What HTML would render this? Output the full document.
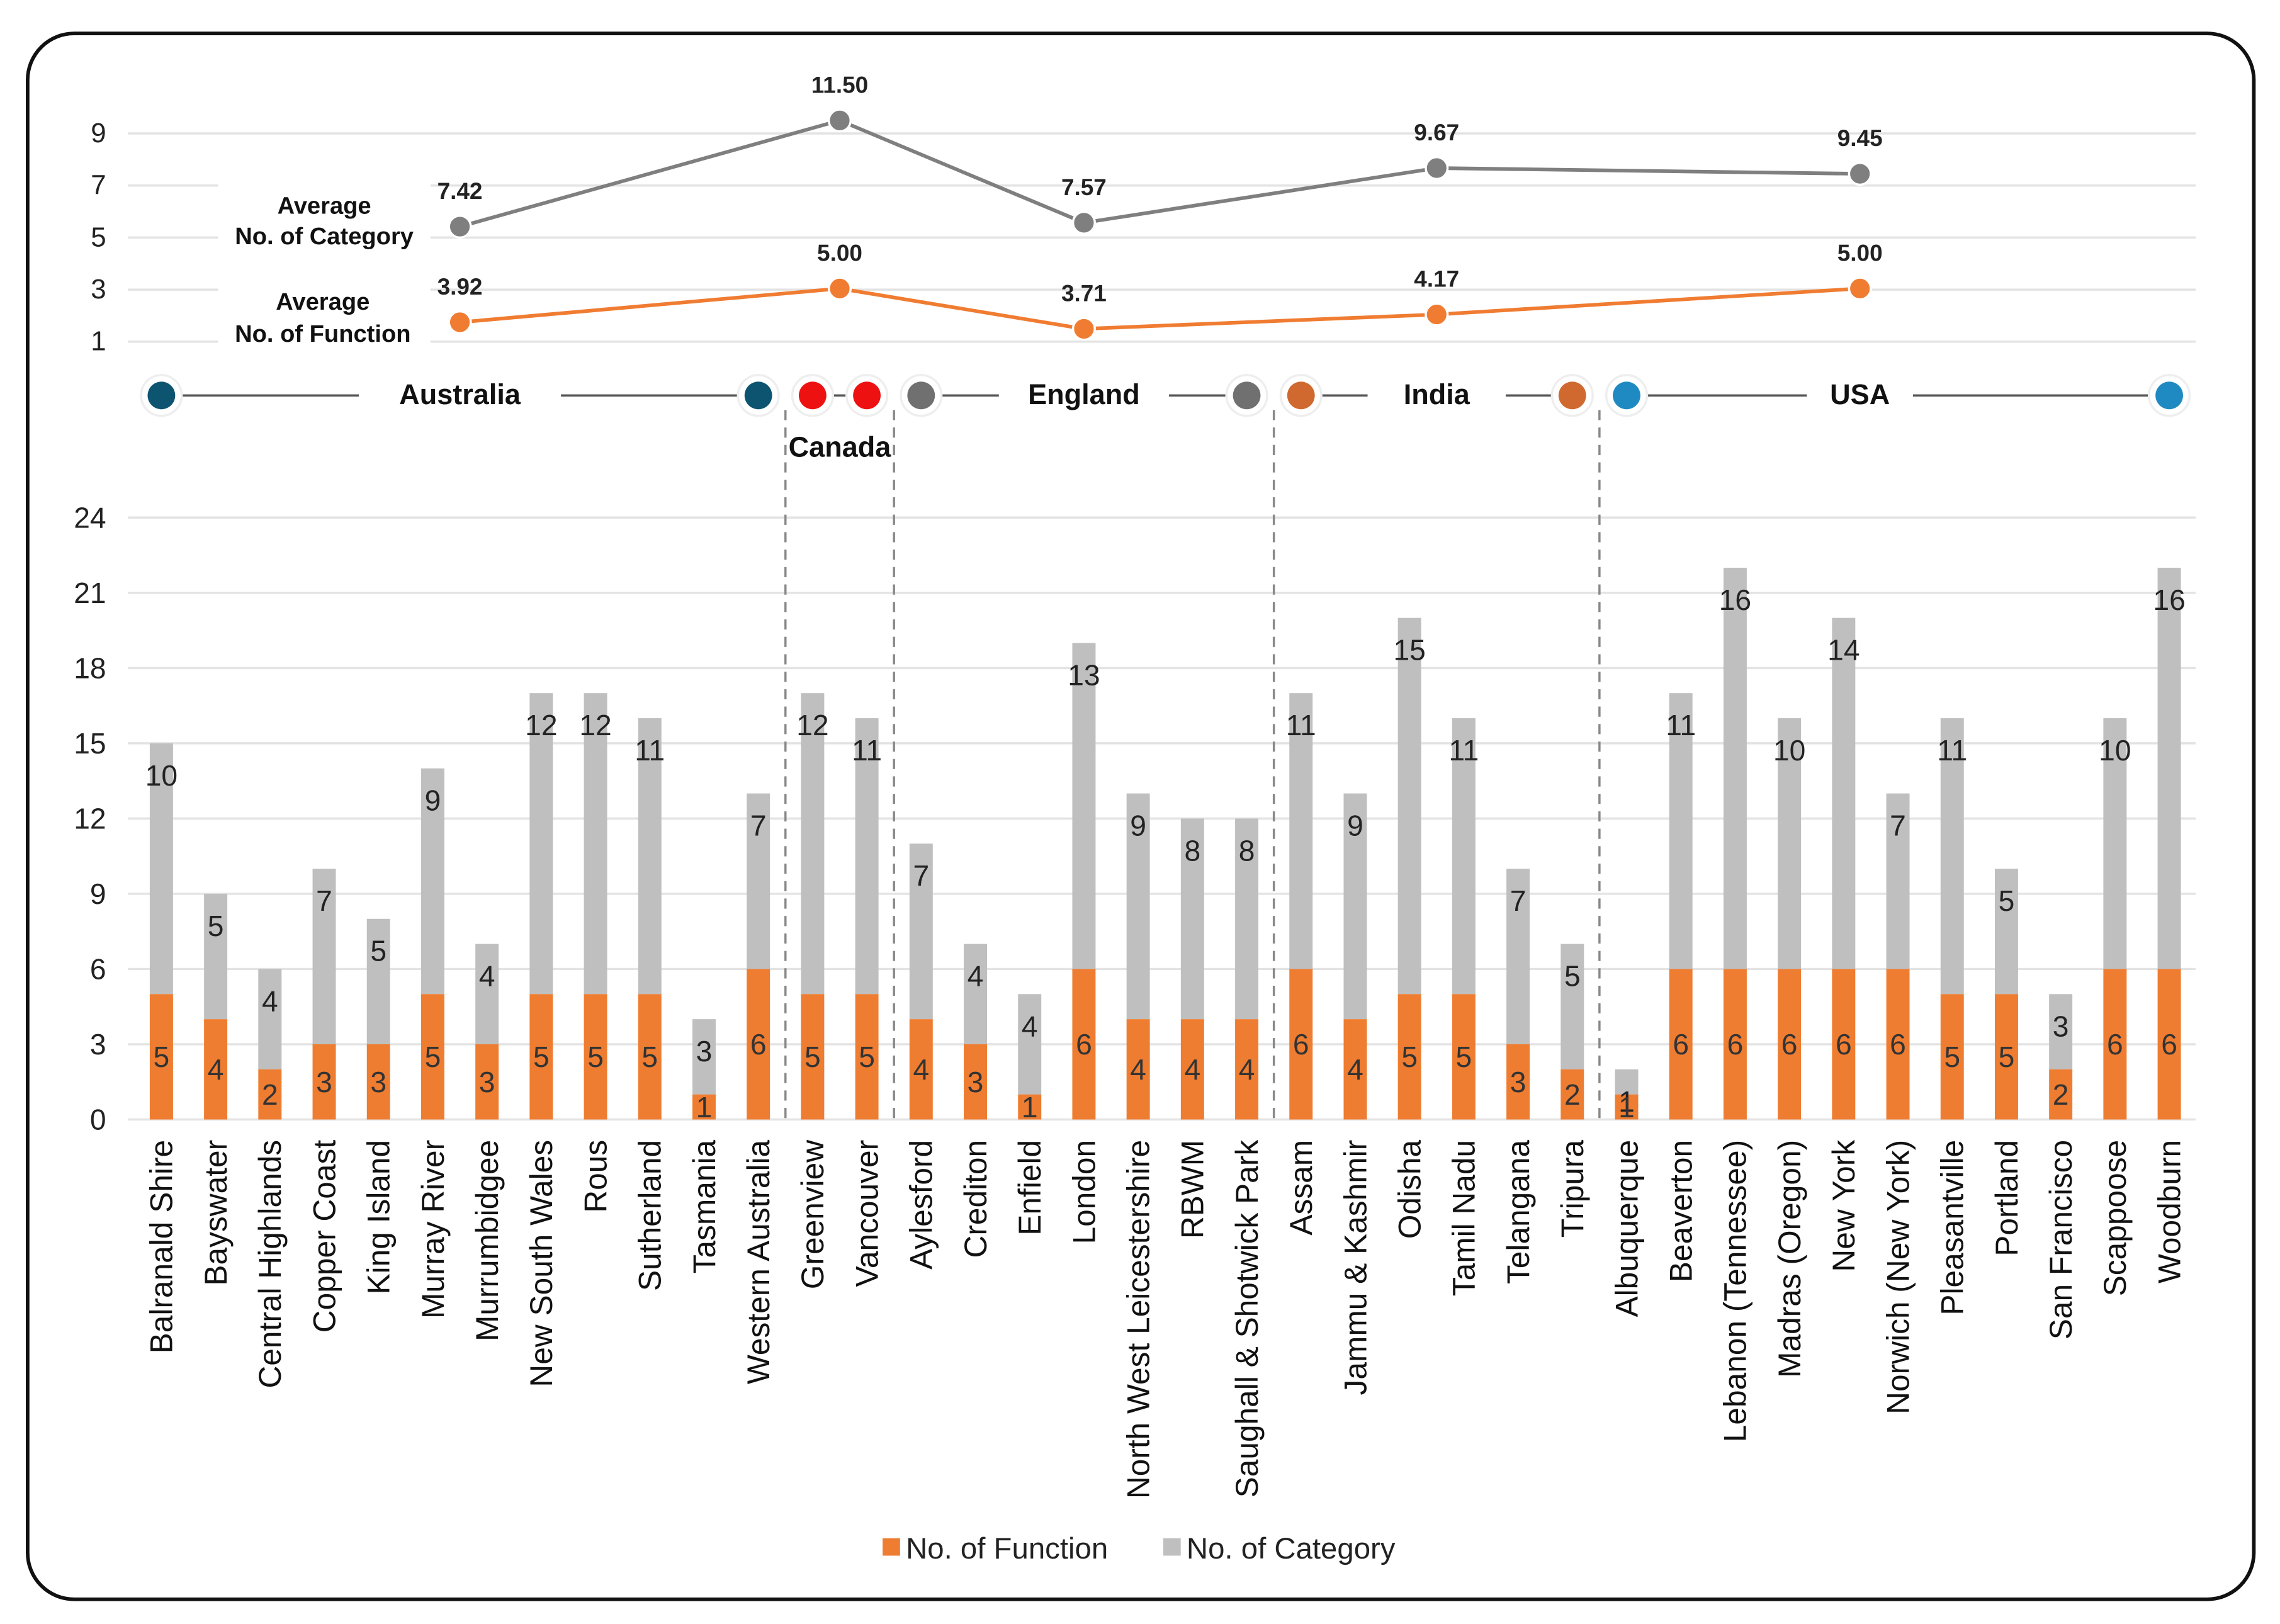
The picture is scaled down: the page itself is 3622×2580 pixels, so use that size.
<!DOCTYPE html>
<html><head><meta charset="utf-8">
<style>
html,body{margin:0;padding:0;background:#fff;}
svg{display:block;font-family:"Liberation Sans",Arial,sans-serif;}
</style></head>
<body>
<svg id="chart" width="3622" height="2580" viewBox="0 0 1568 1117" preserveAspectRatio="none" xmlns="http://www.w3.org/2000/svg">
<rect x="19" y="23" width="1531" height="1077" rx="32" fill="#fff" stroke="#111" stroke-width="2.5"/>
<g id="top"></g>
<g id="countries"></g>
<g id="bottom"></g>
</svg>
<script>
const sites = ["Balranald Shire","Bayswater","Central Highlands","Copper Coast","King Island","Murray River","Murrumbidgee","New South Wales","Rous","Sutherland","Tasmania","Western Australia","Greenview","Vancouver","Aylesford","Crediton","Enfield","London","North West Leicestershire","RBWM","Saughall & Shotwick Park","Assam","Jammu & Kashmir","Odisha","Tamil Nadu","Telangana","Tripura","Albuquerque","Beaverton","Lebanon (Tennessee)","Madras (Oregon)","New York","Norwich (New York)","Pleasantville","Portland","San Francisco","Scappoose","Woodburn"];
const funcVals = [5,4,2,3,3,5,3,5,5,5,1,6,5,5,4,3,1,6,4,4,4,6,4,5,5,3,2,1,6,6,6,6,6,5,5,2,6,6];
const catVals = [10,5,4,7,5,9,4,12,12,11,3,7,12,11,7,4,4,13,9,8,8,11,9,15,11,7,5,1,11,16,10,14,7,11,5,3,10,16];
const barTicks = [0,3,6,9,12,15,18,21,24];
const countries = ["Australia","Canada","England","India","USA"];
const countryStart = [0,12,14,21,27];
const countryEnd = [11,13,20,26,37];
const countryLabelIdx = [5.5,12.5,17,23.5,31.3];
const countryColors = ["#0d5470","#ee1111","#707070","#d0692f","#1f8ac2"];
const avgCategory = [7.42,11.50,7.57,9.67,9.45];
const avgFunction = [3.92,5.00,3.71,4.17,5.00];
const topTicks = [1,3,5,7,9];

const NS="http://www.w3.org/2000/svg";
function mk(tag,attrs,parent,text){const e=document.createElementNS(NS,tag);for(const k in attrs)e.setAttribute(k,attrs[k]);if(text!==undefined)e.textContent=text;parent.appendChild(e);return e;}
const X0=111, STEP=37.32, BW=16;
const xi = i => X0 + i*STEP;
const yb = v => 770 - v*17.25;
const yt = v => 235 - (v-3)*17.9;
const ytf = v => 235 - (v-3.3)*21.5;
const ytick = v => 235 - (v-1)*17.9;

const topG = document.getElementById('top');
topTicks.forEach(t=>{
  const g=mk('line',{x1:88,x2:1510,y1:ytick(t),y2:ytick(t),stroke:'#e3e3e3','stroke-width':1.5},topG);
  
  
  const l=mk('text',{x:73,y:ytick(t)+6,'text-anchor':'end','font-size':19,fill:'#222'},topG,String(t));
  
  
});
const cx = countryLabelIdx.map(v=>xi(v));
function series(vals,color,name,yf){
  const pts=vals.map((v,k)=>cx[k]+','+yf(v)).join(' ');
  const pl=mk('polyline',{points:pts,fill:'none',stroke:color,'stroke-width':2.5},topG);
  
  
  vals.forEach((v,k)=>{
    const c=mk('circle',{cx:cx[k],cy:yf(v),r:7.5,fill:color,stroke:'#fff','stroke-width':1.5},topG);
    
    
    const t=mk('text',{x:cx[k],y:yf(v)-19,'text-anchor':'middle','font-size':16,'font-weight':'bold',fill:'#222'},topG,v.toFixed(2));
    
    
  });
}
series(avgCategory,'#7f7f7f','avg-category',yt);
series(avgFunction,'#f07c32','avg-function',ytf);
[141,168,213,235].forEach(yy=>{
  const r=mk('rect',{x:150,y:yy-16,width:146,height:21,fill:'#fff'},topG);
  
  
});
[['Average',223,147],['No. of Category',223,168],['Average',222,213],['No. of Function',222,235]].forEach(a=>{
  const t=mk('text',{x:a[1],y:a[2],'text-anchor':'middle','font-size':16.5,'font-weight':'bold',fill:'#111'},topG,a[0]);
  
  
});

const cg=document.getElementById('countries');
const CY=272;
countries.forEach((c,k)=>{
  const a=xi(countryStart[k]), b=xi(countryEnd[k]), col=countryColors[k];
  const ln=mk('line',{x1:a,x2:b,y1:CY,y2:CY,stroke:'#555','stroke-width':1.5},cg);
  
  
  if(c!=='Canada'){
    const w=c.length*11+40;
    const rb=mk('rect',{x:cx[k]-w/2,y:CY-12,width:w,height:24,fill:'#fff'},cg);
    
    
    const t=mk('text',{x:cx[k],y:CY+6,'text-anchor':'middle','font-size':19.5,'font-weight':'bold',fill:'#111'},cg,c);
    
    
  } else {
    const t=mk('text',{x:cx[k],y:314,'text-anchor':'middle','font-size':19.5,'font-weight':'bold',fill:'#111'},cg,c);
    
    
  }
  [a,b].forEach(x=>{
    const h=mk('circle',{cx:x,cy:CY,r:14,fill:'#fff',stroke:'#eee','stroke-width':1.5},cg);
    
    
    const d=mk('circle',{cx:x,cy:CY,r:9.5,fill:col},cg);
    
    
  });
});

const botG=document.getElementById('bottom');
barTicks.forEach(t=>{
  const l=mk('line',{x1:88,x2:1510,y1:yb(t),y2:yb(t),stroke:'#e3e3e3','stroke-width':1.5},botG);
  
  
  const tx=mk('text',{x:73,y:yb(t)+7,'text-anchor':'end','font-size':20,fill:'#222'},botG,String(t));
  
  
});
for(let k=1;k<countries.length;k++){
  const x=xi(countryStart[k]-0.5);
  const d=mk('line',{x1:x,x2:x,y1:CY+10,y2:yb(0),stroke:'#888','stroke-width':1.5,'stroke-dasharray':'7,5'},botG);
  
  
}
sites.forEach((s,i)=>{
  const f=funcVals[i], c=catVals[i], x=xi(i);
  const rc=mk('rect',{x:x-BW/2,y:yb(f+c),width:BW,height:yb(f)-yb(f+c),fill:'#bfbfbf'},botG);
  
  
  const rf=mk('rect',{x:x-BW/2,y:yb(f),width:BW,height:yb(0)-yb(f),fill:'#ee7d31'},botG);
  
  
  const tc=mk('text',{x:x,y:yb(f+c)+29,'text-anchor':'middle','font-size':20,fill:'#222'},botG,String(c));
  
  
  const tf=mk('text',{x:x,y:(yb(f)+yb(0))/2+7,'text-anchor':'middle','font-size':20,fill:'#333'},botG,String(f));
  
  
  const xl=mk('text',{x:0,y:0,transform:'translate('+(x+7.5)+',784) rotate(-90)','text-anchor':'end','font-size':21.5,fill:'#111'},botG,s);
  
  
});
const legendItems=[['#ee7d31','No. of Function',607],['#bfbfbf','No. of Category',800]];
legendItems.forEach(e=>{
  const r=mk('rect',{x:e[2],y:1058,width:12,height:12,fill:e[0]},botG);
  
  
  const t=mk('text',{x:e[2]+16,y:1072,'font-size':20.5,fill:'#222'},botG,e[1]);
  
  
});
</script>
</body></html>
